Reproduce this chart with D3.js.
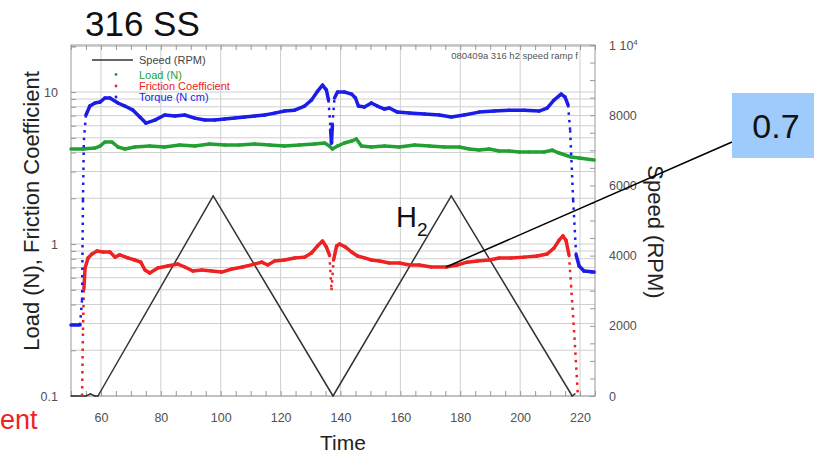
<!DOCTYPE html>
<html>
<head>
<meta charset="utf-8">
<script src="https://cdn.jsdelivr.net/npm/d3@7"></script>
<style>
  body { margin: 0; background: #fff; }
  svg { font-family: "Liberation Sans", Arial, sans-serif; }
</style>
</head>
<body>
<svg id="chart" width="814" height="460"></svg>
<script>
// ---- data ----
const timeTicks = [60, 80, 100, 120, 140, 160, 180, 200, 220]
const leftTicks = [0.1, 1, 10]
const rightTicks = [0, 2000, 4000, 6000, 8000, 10000]

const speedTime = [50, 55, 56.5, 58, 59, 97.5, 137.5, 177, 217.4, 218.3]
const speedRpm = [0, 0, 60, 0, 0, 5700, 0, 5700, 0, 60]

const loadTime = [50, 54, 58, 59.7, 61.3, 63.7, 65.7, 68, 71.3, 76.3, 81.3, 86.3, 91.3, 96.3, 101.3, 106.3, 111.3, 116.3, 121.3, 126.3, 131.3, 134.7, 136.3, 137.3, 139, 141.3, 143.7, 145.3, 147, 150.3, 154.7, 159.7, 164.7, 169.7, 174.7, 179.7, 183, 186.3, 189.7, 193, 196.3, 199.7, 203, 208, 210.7, 213, 217, 219.7, 224.7]
const loadN = [4.22, 4.22, 4.28, 4.41, 4.69, 4.69, 4.35, 4.22, 4.35, 4.41, 4.35, 4.48, 4.41, 4.55, 4.48, 4.48, 4.55, 4.48, 4.41, 4.48, 4.55, 4.62, 4.41, 4.22, 4.41, 4.62, 4.76, 4.91, 4.41, 4.35, 4.41, 4.35, 4.48, 4.41, 4.35, 4.35, 4.22, 4.15, 4.22, 4.09, 4.09, 4.03, 4.03, 4.03, 4.15, 3.97, 3.74, 3.68, 3.57]

const frictionTime = [53.7, 54, 54.3, 54.7, 55.7, 57, 58.7, 60.7, 63, 64.7, 66.3, 69, 71.3, 73.3, 74.7, 76.3, 79, 82.3, 85.7, 88, 90.7, 93.7, 97, 100.3, 103.7, 107.3, 111.3, 113.7, 115.7, 118, 121.3, 124.7, 128, 130.3, 132.3, 134, 135.3, 136.3, 137, 137.7, 138.7, 139.7, 141.7, 143.7, 145.7, 148, 150.3, 153, 156.3, 159.7, 163, 166.3, 170.3, 175.3, 179, 182.3, 185.7, 189.7, 193, 197, 201.3, 205.7, 209, 211.3, 213, 214.3, 215.3, 216.3, 217, 218, 219.3]
const frictionCoef = [0.1, 0.272, 0.506, 0.695, 0.81, 0.86, 0.9, 0.886, 0.886, 0.82, 0.85, 0.81, 0.785, 0.76, 0.675, 0.644, 0.695, 0.716, 0.738, 0.706, 0.664, 0.675, 0.664, 0.654, 0.685, 0.706, 0.738, 0.76, 0.728, 0.773, 0.785, 0.81, 0.82, 0.873, 0.97, 1.046, 0.955, 0.85, 0.498, 0.785, 0.97, 1.0, 0.955, 0.886, 0.834, 0.81, 0.785, 0.773, 0.75, 0.75, 0.728, 0.728, 0.706, 0.706, 0.728, 0.76, 0.773, 0.785, 0.81, 0.81, 0.82, 0.834, 0.86, 0.94, 1.06, 1.13, 1.06, 0.85, 0.537, 0.272, 0.1]

const torqueTime = [50, 53, 53.7, 54, 54.3, 55, 56.3, 58, 59.7, 61.3, 63, 65.7, 68, 70.7, 73, 75, 78, 81.3, 84.7, 88, 91.3, 94.7, 98, 101.3, 104.7, 108, 111.3, 114.7, 118, 121.3, 124.7, 128, 130.3, 132.3, 134, 135.3, 136, 136.7, 137, 137.3, 138, 139, 141.3, 143.7, 145, 146, 148, 150.3, 152.3, 154.7, 156.3, 159, 163, 168, 173, 177, 181.3, 186.3, 191.3, 196.3, 201.3, 206.3, 209, 211.3, 213.7, 215, 216, 216.7, 217.7, 218.7, 219.7, 221.3, 224.7]
const torqueNcm = [0.293, 0.293, 0.428, 1.95, 4.83, 7.06, 8.09, 8.47, 8.59, 9.14, 9.14, 8.47, 8.09, 7.6, 6.85, 6.25, 6.54, 7.06, 6.95, 7.06, 6.74, 6.54, 6.54, 6.64, 6.74, 6.85, 6.95, 7.06, 7.27, 7.5, 7.6, 8.09, 8.85, 10.1, 11.1, 10.3, 8.85, 5.62, 4.62, 6.06, 9.14, 10, 10, 9.7, 9.14, 8.09, 7.97, 8.47, 8.09, 7.73, 7.85, 7.38, 7.27, 7.16, 7.06, 6.85, 7.06, 7.38, 7.5, 7.6, 7.6, 7.5, 7.85, 8.85, 9.7, 9.27, 8.22, 5.62, 1.95, 0.847, 0.716, 0.664, 0.654]

const legendNames = ['Speed (RPM)', 'Load (N)', 'Friction Coefficient', 'Torque (N cm)']
const annotTime = 175.3
const annotValue = 0.706

// ---- layout ----
const svg = d3.select('#chart')
const plotL = 71
const plotR = 595
const plotT = 45
const plotB = 396
const font = '"Liberation Sans", Arial, sans-serif'
const colors = { speed: '#333', load: '#22a032', friction: '#ee2222', torque: '#1c1ce8' }

const x = d3.scaleLinear().domain([50, 225]).range([plotL, plotR])
const yL = d3.scaleLog().domain([0.1, 20.4]).range([plotB, plotT])
const yR = d3.scaleLinear().domain([0, 10000]).range([plotB, plotT])

// grid
const logGrid = []
;[0.1, 1, 10].forEach(dec => {
  for (let k = 1; k <= 9; k++) {
    const v = dec * k
    if (v <= 20.4) logGrid.push(v)
  }
})
logGrid.push(20)

svg.append('g')
  .selectAll('line')
  .data(logGrid)
  .join('line')
  .attr('x1', plotL)
  .attr('x2', plotR)
  .attr('y1', d => yL(d))
  .attr('y2', d => yL(d))
  .attr('stroke', '#cfcfcf')
  .attr('stroke-width', 1)

svg.append('g')
  .selectAll('line')
  .data(timeTicks)
  .join('line')
  .attr('x1', d => x(d))
  .attr('x2', d => x(d))
  .attr('y1', plotT)
  .attr('y2', plotB)
  .attr('stroke', '#cfcfcf')
  .attr('stroke-width', 1)

// minor ticks (inward)
const minorTime = d3.range(50, 226, 5)
const minorRpm = d3.range(0, 10001, 500)

svg.append('g')
  .attr('transform', `translate(0,${plotB})`)
  .call(d3.axisBottom(x).tickValues(minorTime).tickSize(-5).tickFormat(''))
svg.append('g')
  .attr('transform', `translate(0,${plotT})`)
  .call(d3.axisTop(x).tickValues(minorTime).tickSize(-5).tickFormat(''))
svg.append('g')
  .attr('transform', `translate(${plotL},0)`)
  .call(d3.axisLeft(yL).tickValues(logGrid).tickSize(-5).tickFormat(''))
svg.append('g')
  .attr('transform', `translate(${plotR},0)`)
  .call(d3.axisRight(yR).tickValues(minorRpm).tickSize(-5).tickFormat(''))

svg.selectAll('.domain').remove()
svg.selectAll('.tick line').attr('stroke', '#999')

// frame
svg.append('rect')
  .attr('x', plotL)
  .attr('y', plotT)
  .attr('width', plotR - plotL)
  .attr('height', plotB - plotT)
  .attr('fill', 'none')
  .attr('stroke', '#999')
  .attr('stroke-width', 1)

// tick labels
const xLab = svg.append('g')
  .attr('transform', `translate(0,${plotB + 14})`)
  .call(d3.axisBottom(x).tickValues(timeTicks).tickSize(0).tickFormat(d3.format('d')))
const yLab = svg.append('g')
  .attr('transform', `translate(${plotL - 10},0)`)
  .call(d3.axisLeft(yL).tickValues(leftTicks).tickSize(0).tickFormat(d => String(d)))
const rLab = svg.append('g')
  .attr('transform', `translate(${plotR + 11},0)`)
  .call(d3.axisRight(yR).tickValues(rightTicks).tickSize(0).tickFormat(d => d === 10000 ? '' : String(d)))

;[xLab, yLab, rLab].forEach(g => {
  g.select('.domain').remove()
  g.selectAll('text')
    .attr('fill', '#505050')
    .style('font-size', '12.5px')
    .style('font-family', font)
})

rLab.selectAll('.tick text')
  .filter(d => d === 10000)
  .each(function () {
    const t = d3.select(this)
    t.text('1 10')
    t.append('tspan')
      .attr('dy', -5)
      .style('font-size', '8px')
      .text('4')
  })

// series
const drawSeries = (ts, vs, yScale, color, width) => {
  const pts = ts.map((t, i) => [x(t), yScale(vs[i])])
  const g = svg.append('g')
  for (let i = 1; i < pts.length; i++) {
    const dx = Math.abs(pts[i][0] - pts[i - 1][0])
    const dy = Math.abs(pts[i][1] - pts[i - 1][1])
    const steep = dy > 25 && dy / Math.max(dx, 0.1) > 8
    g.append('path')
      .attr('d', d3.line()([pts[i - 1], pts[i]]))
      .attr('fill', 'none')
      .attr('stroke', color)
      .attr('stroke-width', steep ? 2.5 : width)
      .attr('stroke-linecap', steep ? 'butt' : 'round')
      .attr('stroke-dasharray', steep ? '2.5,5' : null)
  }
}

drawSeries(speedTime, speedRpm, yR, colors.speed, 1.5)
drawSeries(loadTime, loadN, yL, colors.load, 3.5)
drawSeries(frictionTime, frictionCoef, yL, colors.friction, 3.5)
drawSeries(torqueTime, torqueNcm, yL, colors.torque, 3.5)

// legend
const leg = svg.append('g').style('font-size', '11px').style('font-family', font)
leg.append('line')
  .attr('x1', 92).attr('x2', 133)
  .attr('y1', 60).attr('y2', 60)
  .attr('stroke', colors.speed).attr('stroke-width', 1.4)
const legColors = [colors.speed, colors.load, colors.friction, colors.torque]
const legY = [60, 74.5, 86, 97]
legendNames.forEach((name, i) => {
  if (i > 0) {
    leg.append('circle')
      .attr('cx', 116).attr('cy', legY[i])
      .attr('r', 1.4)
      .attr('fill', legColors[i])
  }
  leg.append('text')
    .attr('x', 139)
    .attr('y', legY[i] + 4)
    .attr('fill', i === 0 ? '#444' : legColors[i])
    .text(name)
})

svg.append('text')
  .attr('x', 578)
  .attr('y', 59)
  .attr('text-anchor', 'end')
  .attr('fill', '#555')
  .style('font-size', '9.5px')
  .text('080409a 316 h2 speed ramp f')

// titles
svg.append('text')
  .attr('x', 85)
  .attr('y', 36)
  .attr('fill', '#111')
  .style('font-size', '35px')
  .text('316 SS')

svg.append('text')
  .attr('transform', 'translate(39,211) rotate(-90)')
  .attr('text-anchor', 'middle')
  .attr('fill', '#222')
  .style('font-size', '22px')
  .text('Load (N), Friction Coefficient')

svg.append('text')
  .attr('transform', 'translate(648,232) rotate(90)')
  .attr('text-anchor', 'middle')
  .attr('fill', '#222')
  .style('font-size', '22px')
  .text('Speed (RPM)')

svg.append('text')
  .attr('x', 343)
  .attr('y', 450)
  .attr('text-anchor', 'middle')
  .attr('fill', '#222')
  .style('font-size', '21px')
  .text('Time')

svg.append('text')
  .attr('x', 0)
  .attr('y', 429)
  .attr('fill', '#ee2222')
  .style('font-size', '27px')
  .text('ent')

// H2 label
const h2 = svg.append('text')
  .attr('x', 396)
  .attr('y', 227)
  .attr('fill', '#111')
  .style('font-size', '29px')
h2.append('tspan').text('H')
h2.append('tspan')
  .attr('dy', 9)
  .style('font-size', '19px')
  .text('2')

// callout
svg.append('line')
  .attr('x1', x(annotTime))
  .attr('y1', yL(annotValue))
  .attr('x2', 732)
  .attr('y2', 142)
  .attr('stroke', '#000')
  .attr('stroke-width', 1.5)
svg.append('rect')
  .attr('x', 732)
  .attr('y', 93)
  .attr('width', 82)
  .attr('height', 65)
  .attr('fill', '#9ecbfb')
svg.append('text')
  .attr('x', 776)
  .attr('y', 138)
  .attr('text-anchor', 'middle')
  .attr('fill', '#111')
  .style('font-size', '34px')
  .text('0.7')
</script>
</body>
</html>
